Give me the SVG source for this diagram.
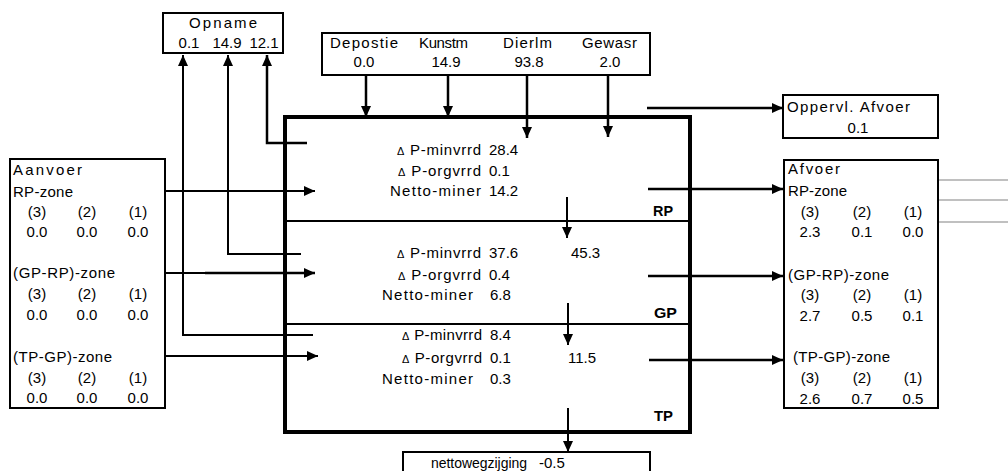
<svg xmlns="http://www.w3.org/2000/svg" width="1008" height="471" viewBox="0 0 1008 471">
<style>
text{font-family:"Liberation Sans",Arial,sans-serif;font-size:15px;fill:#000}
.b{font-weight:bold}
.m{text-anchor:middle}
.e{text-anchor:end}
.box{fill:#fff;stroke:#000;stroke-width:2}
.main{fill:none;stroke:#000;stroke-width:4}
.ln{fill:none;stroke:#000;stroke-width:2}
.lt{fill:none;stroke:#000;stroke-width:2.5}
.gr{stroke:#c0c0c0;stroke-width:2}
.d{font-size:11px}
</style>
<defs>
<marker id="ah" markerUnits="userSpaceOnUse" markerWidth="11" markerHeight="10" refX="11" refY="5" orient="auto">
<path d="M0,0 L11,5 L0,10 z" fill="#000"/>
</marker>
</defs>

<g id="connectors">
<polyline class="ln" points="313,335 183,335 183,55" marker-end="url(#ah)"/>
<polyline class="ln" points="301,254 228,254 228,55" marker-end="url(#ah)"/>
<polyline class="lt" points="307,143 267,143 267,55" marker-end="url(#ah)"/>
<line class="lt" x1="366" y1="75" x2="366" y2="117" marker-end="url(#ah)"/>
<line class="lt" x1="448" y1="75" x2="448" y2="117" marker-end="url(#ah)"/>
<line class="lt" x1="527" y1="75" x2="527" y2="138" marker-end="url(#ah)"/>
<line class="lt" x1="608" y1="75" x2="608" y2="137" marker-end="url(#ah)"/>
<line class="lt" x1="647" y1="108" x2="783" y2="108" marker-end="url(#ah)"/>
<line class="ln" x1="165" y1="191" x2="315" y2="191" marker-end="url(#ah)"/>
<line class="ln" x1="165" y1="273" x2="205" y2="273"/>
<line class="lt" x1="205" y1="273" x2="315" y2="273" marker-end="url(#ah)"/>
<line class="ln" x1="165" y1="356" x2="318" y2="356" marker-end="url(#ah)"/>
<line class="lt" x1="648" y1="189" x2="783" y2="189" marker-end="url(#ah)"/>
<line class="lt" x1="648" y1="276" x2="783" y2="276" marker-end="url(#ah)"/>
<line class="lt" x1="649" y1="360" x2="783" y2="360" marker-end="url(#ah)"/>
<line class="ln" x1="567" y1="197" x2="567" y2="238" marker-end="url(#ah)"/>
<line class="ln" x1="568" y1="303" x2="568" y2="345" marker-end="url(#ah)"/>
<line class="ln" x1="568" y1="408" x2="568" y2="452" marker-end="url(#ah)"/>
<line class="gr" x1="939" y1="180" x2="1008" y2="180"/>
<line class="gr" x1="939" y1="200" x2="1008" y2="200"/>
<line class="gr" x1="939" y1="222" x2="1008" y2="222"/>
</g>

<g id="opname">
<rect class="box" x="163" y="13" width="120" height="40"/>
<text x="189" y="28" textLength="68" lengthAdjust="spacing">Opname</text>
<text x="189" y="48" class="m">0.1</text>
<text x="227" y="48" class="m">14.9</text>
<text x="264" y="48" class="m">12.1</text>
</g>

<g id="inputs">
<rect class="box" x="322" y="33" width="328" height="42"/>
<text x="330" y="48" textLength="68" lengthAdjust="spacing">Depostie</text>
<text x="419" y="48" textLength="49" lengthAdjust="spacing">Kunstm</text>
<text x="503" y="48" textLength="49" lengthAdjust="spacing">Dierlm</text>
<text x="582" y="48" textLength="55" lengthAdjust="spacing">Gewasr</text>
<text x="364" y="67" class="m">0.0</text>
<text x="446" y="67" class="m">14.9</text>
<text x="529" y="67" class="m">93.8</text>
<text x="610" y="67" class="m">2.0</text>
</g>

<g id="oppervl">
<rect class="box" x="783" y="95" width="155" height="43"/>
<text x="787" y="112" textLength="123" lengthAdjust="spacing">Oppervl. Afvoer</text>
<text x="858" y="133" class="m">0.1</text>
</g>

<g id="aanvoer">
<rect class="box" x="10" y="159" width="155" height="249"/>
<text x="13" y="175" textLength="69" lengthAdjust="spacing">Aanvoer</text>
<text x="13" y="197" textLength="60" lengthAdjust="spacing">RP-zone</text>
<text x="37" y="217" class="m">(3)</text><text x="87" y="217" class="m">(2)</text><text x="138" y="217" class="m">(1)</text>
<text x="37" y="237" class="m">0.0</text><text x="87" y="237" class="m">0.0</text><text x="138" y="237" class="m">0.0</text>
<text x="13" y="278" textLength="102" lengthAdjust="spacing">(GP-RP)-zone</text>
<text x="37" y="299" class="m">(3)</text><text x="87" y="299" class="m">(2)</text><text x="138" y="299" class="m">(1)</text>
<text x="37" y="320" class="m">0.0</text><text x="87" y="320" class="m">0.0</text><text x="138" y="320" class="m">0.0</text>
<text x="13" y="362" textLength="99" lengthAdjust="spacing">(TP-GP)-zone</text>
<text x="37" y="383" class="m">(3)</text><text x="87" y="383" class="m">(2)</text><text x="138" y="383" class="m">(1)</text>
<text x="37" y="403" class="m">0.0</text><text x="87" y="403" class="m">0.0</text><text x="138" y="403" class="m">0.0</text>
</g>

<g id="afvoer">
<rect class="box" x="784" y="160" width="154" height="248"/>
<text x="788" y="174" textLength="52" lengthAdjust="spacing">Afvoer</text>
<text x="788" y="196" textLength="59" lengthAdjust="spacing">RP-zone</text>
<text x="810" y="217" class="m">(3)</text><text x="862" y="217" class="m">(2)</text><text x="913" y="217" class="m">(1)</text>
<text x="810" y="237" class="m">2.3</text><text x="862" y="237" class="m">0.1</text><text x="913" y="237" class="m">0.0</text>
<text x="788" y="280" textLength="101" lengthAdjust="spacing">(GP-RP)-zone</text>
<text x="810" y="300" class="m">(3)</text><text x="862" y="300" class="m">(2)</text><text x="913" y="300" class="m">(1)</text>
<text x="810" y="321" class="m">2.7</text><text x="862" y="321" class="m">0.5</text><text x="913" y="321" class="m">0.1</text>
<text x="793" y="362" textLength="97" lengthAdjust="spacing">(TP-GP)-zone</text>
<text x="810" y="383" class="m">(3)</text><text x="862" y="383" class="m">(2)</text><text x="913" y="383" class="m">(1)</text>
<text x="810" y="404" class="m">2.6</text><text x="862" y="404" class="m">0.7</text><text x="913" y="404" class="m">0.5</text>
</g>

<g id="bodem">
<rect class="main" x="285" y="117" width="405" height="315"/>
<line class="ln" x1="285" y1="221" x2="690" y2="221"/>
<line class="ln" x1="285" y1="324" x2="690" y2="324"/>
<text x="397" y="155" textLength="84" lengthAdjust="spacing"><tspan class="d">Δ</tspan> P-minvrrd</text>
<text x="489" y="155">28.4</text>
<text x="398" y="176" textLength="83" lengthAdjust="spacing"><tspan class="d">Δ</tspan> P-orgvrrd</text>
<text x="489" y="176">0.1</text>
<text x="390" y="196" textLength="91" lengthAdjust="spacing">Netto-miner</text>
<text x="489" y="196">14.2</text>
<text x="653" y="216" class="b" textLength="20" lengthAdjust="spacingAndGlyphs">RP</text>
<text x="397" y="258" textLength="84" lengthAdjust="spacing"><tspan class="d">Δ</tspan> P-minvrrd</text>
<text x="489" y="258">37.6</text>
<text x="571" y="258">45.3</text>
<text x="398" y="280" textLength="83" lengthAdjust="spacing"><tspan class="d">Δ</tspan> P-orgvrrd</text>
<text x="489" y="280">0.4</text>
<text x="382" y="300" textLength="91" lengthAdjust="spacing">Netto-miner</text>
<text x="490" y="300">6.8</text>
<text x="654" y="318" class="b" textLength="23" lengthAdjust="spacingAndGlyphs">GP</text>
<text x="402" y="340" textLength="80" lengthAdjust="spacing"><tspan class="d">Δ</tspan> P-minvrrd</text>
<text x="490" y="340">8.4</text>
<text x="402" y="363" textLength="80" lengthAdjust="spacing"><tspan class="d">Δ</tspan> P-orgvrrd</text>
<text x="490" y="363">0.1</text>
<text x="568" y="363">11.5</text>
<text x="382" y="384" textLength="91" lengthAdjust="spacing">Netto-miner</text>
<text x="490" y="384">0.3</text>
<text x="654" y="421" class="b" textLength="19" lengthAdjust="spacingAndGlyphs">TP</text>
</g>

<g id="netto">
<rect class="box" x="403" y="452" width="247" height="30"/>
<text x="431" y="468" style="font-size:14px" textLength="96" lengthAdjust="spacing">nettowegzijging</text>
<text x="539" y="468">-0.5</text>
</g>
</svg>
